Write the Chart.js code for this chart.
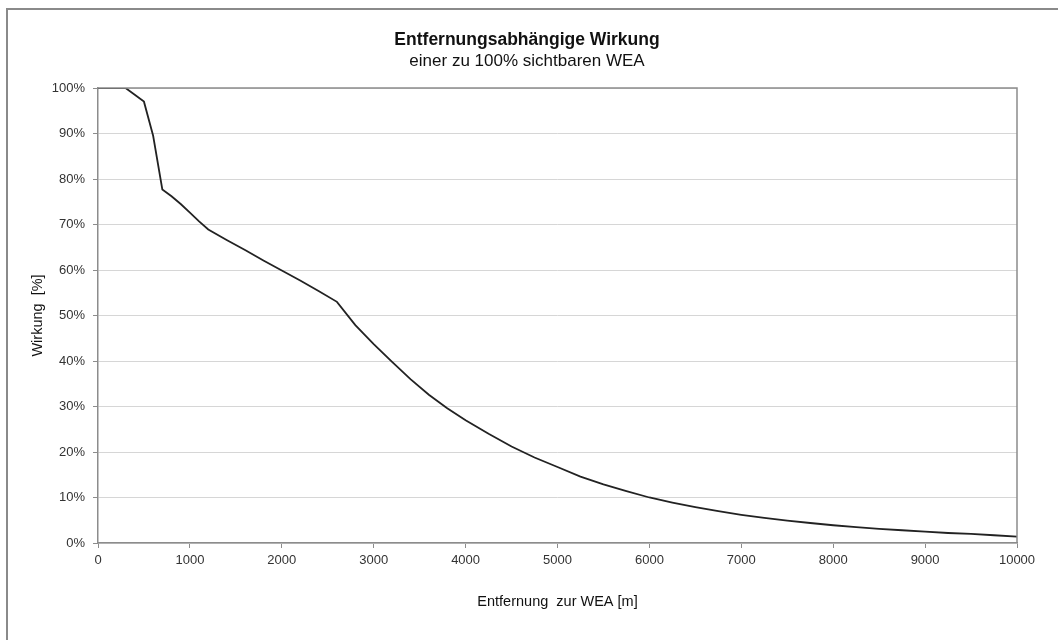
<!DOCTYPE html>
<html>
<head>
<meta charset="utf-8">
<script src="https://cdn.jsdelivr.net/npm/chart.js@4.4.1/dist/chart.umd.min.js"></script>
<style>
  html, body { margin: 0; padding: 0; background: #fff; overflow: hidden; }
  #frame { position: absolute; left: 6px; top: 8px; width: 1050px; height: 700px;
           border-top: 2px solid #8a8a8a; border-left: 2px solid #8a8a8a; }
  #wrap { position: absolute; left: 0; top: 0; width: 1064px; height: 640px; }
</style>
</head>
<body>
<div id="frame"></div>
<div id="wrap"><canvas id="c"></canvas></div>
<script>
// Distance to the turbine [m]
const distances = [0, 300, 400, 500, 600, 700, 800, 900, 1000, 1100, 1200, 1400, 1600, 1800, 2000, 2200, 2400, 2600,
  2800, 3000, 3200, 3400, 3600, 3800, 4000, 4250, 4500, 4750, 5000, 5250, 5500, 5750, 6000, 6250, 6500, 6750,
  7000, 7250, 7500, 7750, 8000, 8250, 8500, 8750, 9000, 9250, 9500, 9750, 10000];
// Effect [%]
const effect = [100, 100, 98.5, 97, 89.5, 77.7, 76.2, 74.5, 72.6, 70.7, 68.9, 66.6, 64.4, 62.1, 59.9, 57.7, 55.4, 53.0,
  47.9, 43.7, 39.8, 36.0, 32.6, 29.6, 27.0, 24.0, 21.2, 18.8, 16.7, 14.6, 12.9, 11.4, 10.0, 8.9, 7.9, 7.0,
  6.2, 5.5, 4.9, 4.4, 3.9, 3.5, 3.1, 2.8, 2.5, 2.2, 2.0, 1.7, 1.4];

const titleText = 'Entfernungsabhängige Wirkung';
const subtitleText = 'einer zu 100% sichtbaren WEA';
const xTitle = 'Entfernung  zur WEA [m]';
const yTitle = 'Wirkung  [%]';

const points = distances.map((d, i) => ({ x: d, y: effect[i] }));

const frameColor = '#8c8c8c';
const gridColor = '#d6d6d6';
const textColor = '#333333';
const FONT = '"Liberation Sans", Arial, sans-serif';

const plotBorder = {
  id: 'plotBorder',
  afterDraw(chart) {
    const { ctx, chartArea: a } = chart;
    ctx.save();
    ctx.strokeStyle = frameColor;
    ctx.lineWidth = 1.5;
    ctx.beginPath();
    ctx.moveTo(a.left, a.top);
    ctx.lineTo(a.right, a.top);
    ctx.lineTo(a.right, a.bottom);
    ctx.stroke();
    ctx.restore();
  }
};

new Chart(document.getElementById('c'), {
  type: 'line',
  data: {
    datasets: [{
      data: points,
      borderColor: '#222222',
      borderWidth: 1.8,
      pointRadius: 0,
      tension: 0,
      fill: false,
      yAxisID: 'y'
    }]
  },
  options: {
    responsive: true,
    maintainAspectRatio: false,
    animation: false,
    layout: { padding: { left: 0, right: 10, top: 0, bottom: 0 } },
    plugins: {
      legend: { display: false },
      tooltip: { enabled: false },
      title: {
        display: true,
        text: titleText,
        color: '#111',
        font: { family: FONT, size: 17.5, weight: 'bold', lineHeight: 1.2 },
        padding: { top: 30, bottom: 0 }
      },
      subtitle: {
        display: true,
        text: subtitleText,
        color: '#111',
        font: { family: FONT, size: 17, weight: 'normal', lineHeight: 1.2 },
        padding: { top: 0, bottom: 16.6 }
      }
    },
    scales: {
      x: {
        type: 'linear',
        min: 0,
        max: 10000,
        afterFit(scale) { scale.height = 97; },
        ticks: {
          stepSize: 1000,
          color: textColor,
          font: { family: FONT, size: 13 },
          padding: 5,
          maxRotation: 0,
          callback: v => String(v)
        },
        grid: { drawOnChartArea: false, drawTicks: true, tickLength: 5, tickColor: frameColor, lineWidth: 1 },
        border: { display: true, color: frameColor, width: 1.5 },
        title: {
          display: true,
          text: xTitle,
          color: '#111',
          font: { family: FONT, size: 14.5, lineHeight: 1.2 },
          padding: { top: 0, bottom: 29.3 }
        }
      },
      y: {
        type: 'linear',
        position: 'left',
        min: 0,
        max: 100,
        afterFit(scale) { scale.width = 98; },
        ticks: {
          stepSize: 10,
          color: textColor,
          font: { family: FONT, size: 13 },
          padding: 8,
          callback: v => v + '%'
        },
        grid: { drawOnChartArea: true, color: gridColor, lineWidth: 1, drawTicks: true, tickLength: 5, tickColor: frameColor },
        border: { display: true, color: frameColor, width: 1.5 },
        title: {
          display: true,
          text: yTitle,
          color: '#111',
          font: { family: FONT, size: 14.5, lineHeight: 1.2 },
          padding: { top: 29.3, bottom: 0 }
        }
      },
      yRight: {
        type: 'linear',
        position: 'right',
        min: 0,
        max: 100,
        afterFit(scale) { scale.width = 37; },
        ticks: { display: false },
        grid: { display: false },
        border: { display: false }
      }
    }
  },
  plugins: [plotBorder]
});
</script>
</body>
</html>
